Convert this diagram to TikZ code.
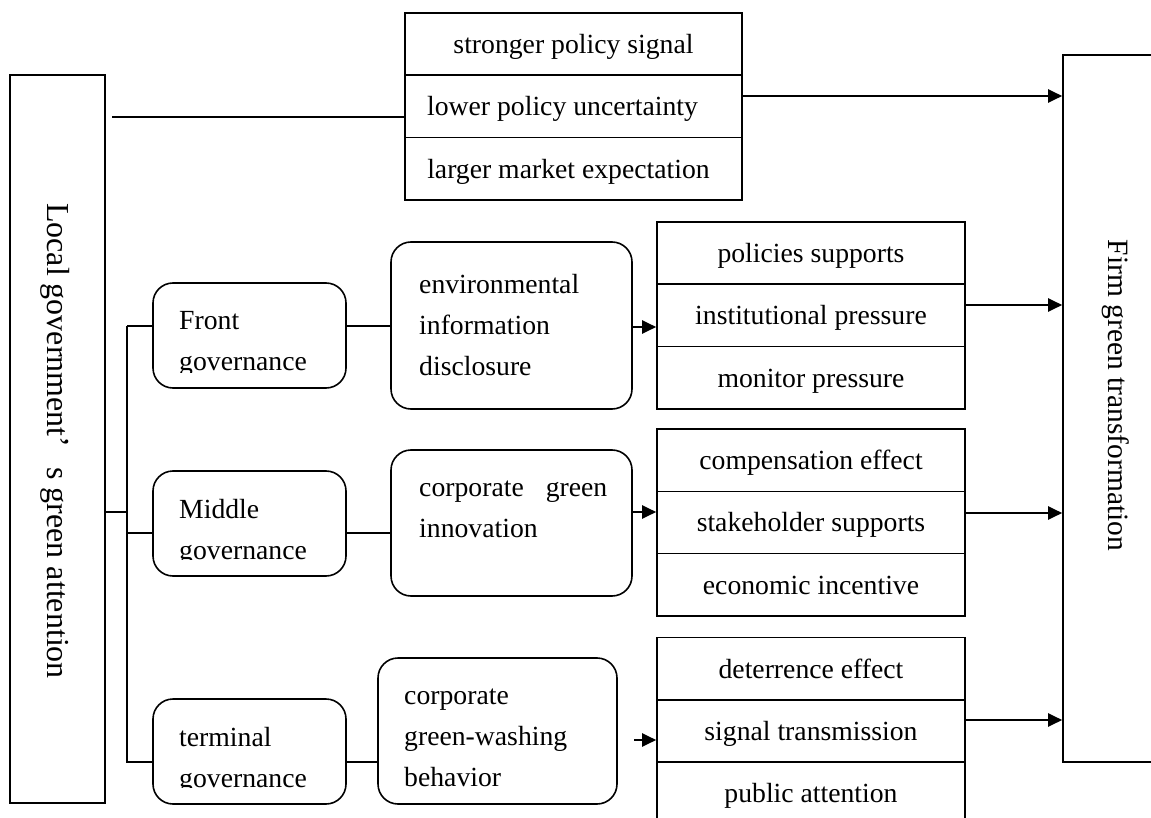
\documentclass[tikz,border=0pt]{standalone}
\usepackage{fontspec}
\setmainfont{Liberation Serif}
\usepackage{tikz}
\usetikzlibrary{arrows.meta,positioning}
\newcommand\bigtxt{\fontsize{27.7pt}{41pt}\selectfont}

\begin{document}
\begin{tikzpicture}[x=1pt,y=-1pt,font=\bigtxt,
box/.style={draw,line width=1.6pt,inner sep=0pt},
rbox/.style={box,rounded corners=20pt},
cell/.style={box,minimum width=308pt,minimum height=62.3pt,text height=19pt,text depth=0pt},
lbl/.style={anchor=north west,align=left,inner sep=0pt,execute at begin node=\strut},
ln/.style={line width=1.8pt},
arr/.style={line width=2pt,-{Triangle[length=14pt,width=13pt]}}]
\useasboundingbox (0,0) rectangle (1151,818);
\clip (0,0) rectangle (1151,818);
% outer boxes
\node[box,minimum width=95pt,minimum height=728pt] (lg) at (57.5,439) {};
\node[rotate=-90,font=\fontsize{32pt}{38pt}\selectfont] (lgt) at (55,441) {Local government’\hspace{20pt}s green attention};
\node[box,minimum width=110pt,minimum height=707pt] (fg) at (1118,408.5) {};
\node[rotate=-90,font=\fontsize{29.5pt}{35pt}\selectfont] (fgt) at (1116,395.5) {Firm green transformation};
% stacks
\foreach \t/\d [count=\k] in {stronger policy signal/0,lower policy uncertainty/-22,larger market expectation/-10}
\node[cell,minimum width=337pt] (top\k) at (573.5,{44.15+62.3*(\k-1)}) {\hspace*{\d pt}\t};
\foreach \n/\y/\ta/\tb/\tc in {pa/222/policies supports/institutional pressure/monitor pressure,
pb/429/compensation effect/stakeholder supports/economic incentive,
pc/637.5/deterrence effect/signal transmission/public attention}{
\node[cell] (\n1) at (811,{\y+31.15}) {\ta};
\node[cell] (\n2) at (811,{\y+93.45}) {\tb};
\node[cell] (\n3) at (811,{\y+155.75}) {\tc};}
% governance and channels
\node[rbox,minimum width=193pt,minimum height=105pt] (fr) at (249.5,335.5) {};
\node[rbox,minimum width=193pt,minimum height=105pt] (md) at (249.5,523.5) {};
\node[rbox,minimum width=193pt,minimum height=105pt] (tm) at (249.5,751.5) {};
\node[rbox,minimum width=241pt,minimum height=167pt] (ed) at (511.5,325.5) {};
\node[rbox,minimum width=241pt,minimum height=146pt] (gi) at (511.5,523) {};
\node[rbox,minimum width=239pt,minimum height=146pt] (gw) at (497.5,731) {};
\begin{scope}\clip (153,283) rectangle (346,372);
\node[lbl] (frt) at (179,311.3) {Front\\governance};\end{scope}
\begin{scope}\clip (153,471) rectangle (346,559);
\node[lbl] (mdt) at (179,499.3) {Middle\\governance};\end{scope}
\begin{scope}\clip (153,699) rectangle (346,787);
\node[lbl] (tmt) at (179,727.3) {terminal\\governance};\end{scope}
\node[lbl] (edt) at (419,274.3) {environmental\\information\\disclosure};
\node[lbl] (git) at (419,480.3) {corporate\hspace{22pt}green\\innovation};
\begin{scope}\clip (378,658) rectangle (617,788);
\node[lbl] (gwt) at (404,688.3) {corporate\\green-washing\\behavior};\end{scope}
% connectors
\coordinate (b1) at (127,326); \coordinate (b2) at (127,512);
\coordinate (b3) at (127,533); \coordinate (b4) at (127,762);
\draw[ln] (b1) -- (b4) -- (b4 -| tm.west);
\draw[ln] (b1) -- (b1 -| fr.west); \draw[ln] (b2 -| lg.east) -- (b2);
\draw[ln] (b3) -- (b3 -| md.west);
\draw[ln] (b1 -| fr.east) -- (b1 -| ed.west);
\draw[ln] (b3 -| md.east) -- (b3 -| gi.west);
\draw[ln] (b4 -| tm.east) -- (b4 -| gw.west);
\coordinate (l0) at (112,117); \draw[ln] (l0) -- (l0 -| top2.west);
\coordinate (a1) at (632,327); \coordinate (a2) at (633,512); \coordinate (a3) at (634,740);
\draw[arr] (a1) -- (a1 -| pa2.west); \draw[arr] (a2) -- (a2 -| pb2.west);
\draw[arr] (a3) -- (a3 -| pc2.west);
\coordinate (c0) at (742,96); \coordinate (c1) at (965,305);
\coordinate (c2) at (965,513); \coordinate (c3) at (965,720);
\foreach \c in {c0,c1,c2,c3} \draw[arr] (\c) -- (\c -| fg.west);
\end{tikzpicture}
\end{document}
